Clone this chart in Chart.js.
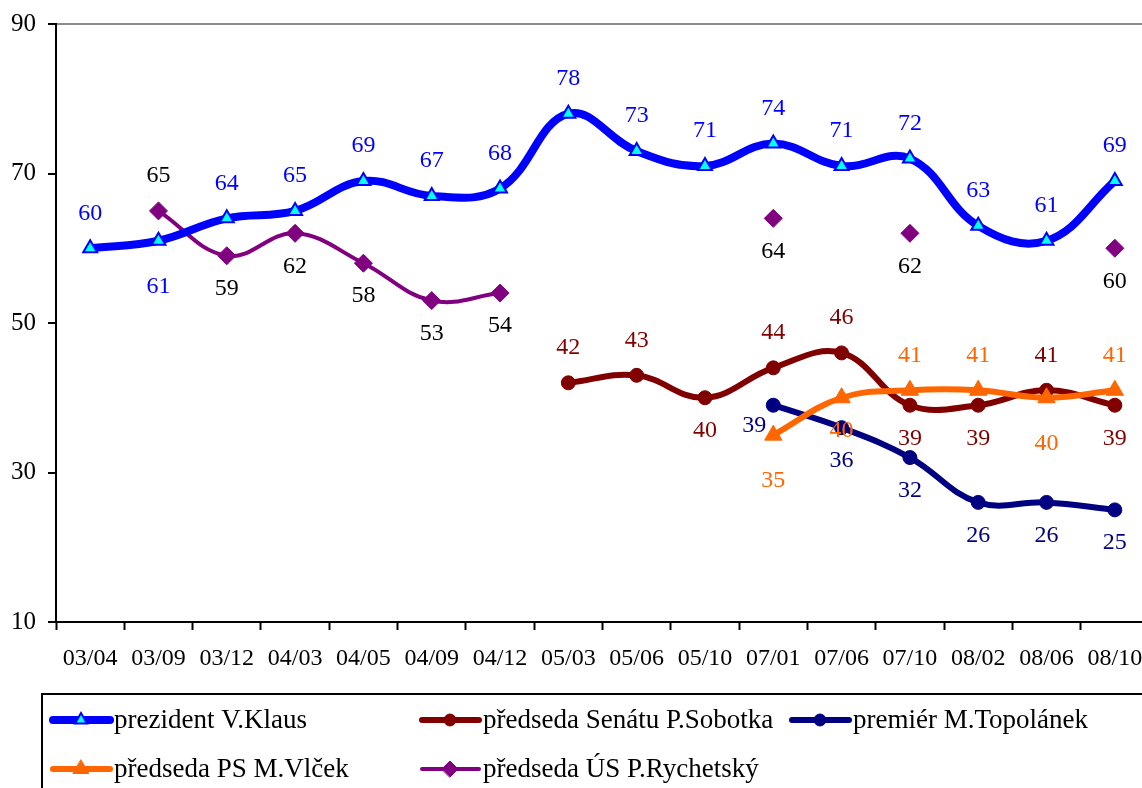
<!DOCTYPE html>
<html lang="cs">

<head>
  <meta charset="UTF-8">
  <title>Důvěra ústavním činitelům</title>
  <script src="https://cdn.jsdelivr.net/npm/chart.js"></script>
  <style>
    html,
    body {
      margin: 0;
      padding: 0;
      background: #fff;
      overflow: hidden;
    }

    #wrap {
      width: 1160px;
      height: 788px;
      position: relative;
    }
  </style>
</head>

<body>
  <div id="wrap"><canvas id="myChart"></canvas></div>

  <script>
    const labels = ['03/04', '03/09', '03/12', '04/03', '04/05', '04/09', '04/12', '05/03',
      '05/06', '05/10', '07/01', '07/06', '07/10', '08/02', '08/06', '08/10'];

    const klaus = [60, 61, 64, 65, 69, 67, 68, 78, 73, 71, 74, 71, 72, 63, 61, 69];
    const sobotka = [null, null, null, null, null, null, null, 42, 43, 40, 44, 46, 39, 39, 41, 39];
    const topolanek = [null, null, null, null, null, null, null, null, null, null, 39, 36, 32, 26, 26, 25];
    const vlcek = [null, null, null, null, null, null, null, null, null, null, 35, 40, 41, 41, 40, 41];
    const rychetsky = [null, 65, 59, 62, 58, 53, 54, null, null, null, 64, null, 62, null, null, 60];

    const yTicks = [10, 30, 50, 70, 90];

    // where the value label sits: a = above, b = below, B = further below, l = left
    const klausPos = ['a', 'B', 'a', 'a', 'a', 'a', 'a', 'a', 'a', 'a', 'a', 'a', 'a', 'a', 'a', 'a'];
    const sobotkaPos = [0, 0, 0, 0, 0, 0, 0, 'a', 'a', 'b', 'a', 'a', 'b', 'b', 'a', 'b'];
    const topolanekPos = [0, 0, 0, 0, 0, 0, 0, 0, 0, 0, 'l', 'b', 'b', 'b', 'b', 'b'];
    const vlcekPos = [0, 0, 0, 0, 0, 0, 0, 0, 0, 0, 'B', 'b', 'a', 'a', 'B', 'a'];
    const rychetskyPos = [0, 'a', 'b', 'b', 'b', 'b', 'b', 0, 0, 0, 'b', 0, 'b', 0, 0, 'b'];

    const FONT = 'Liberation Serif, Times New Roman, serif';

    const valueLabels = {
      id: 'valueLabels',
      afterDatasetsDraw(chart) {
        const ctx = chart.ctx;
        ctx.save();
        ctx.font = '24px ' + FONT;
        ctx.textAlign = 'center';
        ctx.textBaseline = 'middle';
        chart.data.datasets.forEach((ds, i) => {
          const meta = chart.getDatasetMeta(i);
          ctx.fillStyle = ds.labelColor;
          meta.data.forEach((pt, j) => {
            const v = ds.data[j];
            if (v === null) return;
            const p = ds.labelPos[j];
            let dx = 0, dy = -35;
            if (p === 'b') dy = 33;
            if (p === 'B') dy = 46;
            if (p === 'l') { dx = -19; dy = 20; }
            ctx.fillText(String(v), pt.x + dx, pt.y + dy);
          });
        });
        ctx.restore();
      }
    };

    const boxLegend = {
      id: 'boxLegend',
      afterDraw(chart) {
        const ctx = chart.ctx;
        const ds = chart.data.datasets;
        const slots = [[50, 720], [419, 720], [789, 720], [50, 769], [419, 769]];
        ctx.save();
        ctx.strokeStyle = '#000';
        ctx.lineWidth = 2;
        ctx.strokeRect(42, 694, 2000, 300);
        ctx.font = '27px ' + FONT;
        ctx.textBaseline = 'middle';
        ctx.textAlign = 'left';
        ds.forEach((d, i) => {
          const [x, y] = slots[i];
          ctx.strokeStyle = d.borderColor;
          ctx.lineWidth = d.borderWidth;
          ctx.lineCap = 'round';
          ctx.beginPath();
          ctx.moveTo(x + 3, y);
          ctx.lineTo(x + 60, y);
          ctx.stroke();
          ctx.fillStyle = d.pointBackgroundColor;
          ctx.strokeStyle = d.pointBorderColor;
          ctx.lineWidth = d.pointBorderWidth;
          Chart.helpers.drawPoint(ctx, {
            pointStyle: d.pointStyle, radius: d.pointRadius - 1, rotation: 0,
            borderWidth: d.pointBorderWidth
          }, x + 31, y);
          ctx.fillStyle = '#000';
          ctx.fillText(d.label, x + 64, y + 1);
        });
        ctx.restore();
      }
    };

    const ctx = document.getElementById('myChart').getContext('2d');

    new Chart(ctx, {
      type: 'line',
      data: {
        labels: labels,
        datasets: [{
          label: 'prezident V.Klaus',
          data: klaus,
          labelPos: klausPos,
          labelColor: '#0000FF',
          borderColor: '#0000FF',
          borderWidth: 8,
          pointStyle: 'triangle',
          pointRadius: 8,
          pointBackgroundColor: '#00FFFF',
          pointBorderColor: '#0000FF',
          pointBorderWidth: 2,
          order: 3
        }, {
          label: 'předseda Senátu P.Sobotka',
          data: sobotka,
          labelPos: sobotkaPos,
          labelColor: '#800000',
          borderColor: '#800000',
          borderWidth: 6,
          pointStyle: 'circle',
          pointRadius: 7,
          pointBackgroundColor: '#800000',
          pointBorderColor: '#800000',
          pointBorderWidth: 1,
          order: 2
        }, {
          label: 'premiér M.Topolánek',
          data: topolanek,
          labelPos: topolanekPos,
          labelColor: '#000080',
          borderColor: '#000080',
          borderWidth: 6,
          pointStyle: 'circle',
          pointRadius: 7,
          pointBackgroundColor: '#000080',
          pointBorderColor: '#000080',
          pointBorderWidth: 1,
          order: 1
        }, {
          label: 'předseda PS M.Vlček',
          data: vlcek,
          labelPos: vlcekPos,
          labelColor: '#FF6600',
          borderColor: '#FF6600',
          borderWidth: 6,
          pointStyle: 'triangle',
          pointRadius: 10,
          pointBackgroundColor: '#FF6600',
          pointBorderColor: '#FF6600',
          pointBorderWidth: 1,
          order: 0
        }, {
          label: 'předseda ÚS P.Rychetský',
          data: rychetsky,
          labelPos: rychetskyPos,
          labelColor: '#000000',
          borderColor: '#800080',
          borderWidth: 4,
          pointStyle: 'rectRot',
          pointRadius: 9,
          pointBackgroundColor: '#800080',
          pointBorderColor: '#800080',
          pointBorderWidth: 1,
          order: 4
        }]
      },
      options: {
        responsive: true,
        maintainAspectRatio: false,
        animation: false,
        spanGaps: false,
        elements: {
          line: { tension: 0.4, borderCapStyle: 'round', borderJoinStyle: 'round' }
        },
        layout: { padding: { top: 24, right: 7, left: 0, bottom: 0 } },
        plugins: {
          legend: { display: false },
          tooltip: { enabled: false }
        },
        scales: {
          x: {
            offset: true,
            afterFit: s => { s.height = 166; },
            grid: { offset: true, drawOnChartArea: false, tickColor: '#000', tickLength: 8, tickWidth: 2 },
            border: { color: '#000', width: 2 },
            ticks: {
              color: '#000',
              font: { family: FONT, size: 24 },
              padding: 14,
              maxRotation: 0,
              autoSkip: false
            }
          },
          y: {
            min: 10,
            max: 90,
            afterFit: s => { s.width = 56; s.paddingTop = 0; s.paddingBottom = 0; },
            afterBuildTicks: s => { s.ticks = yTicks.map(v => ({ value: v })); },
            grid: {
              color: c => (c.tick && c.tick.value === 90 ? '#8c8c8c' : 'rgba(0,0,0,0)'),
              lineWidth: 2,
              tickColor: '#000',
              tickLength: 8,
              tickWidth: 2
            },
            border: { color: '#000', width: 2 },
            ticks: {
              color: '#000',
              font: { family: FONT, size: 25 },
              padding: 12
            }
          }
        }
      },
      plugins: [valueLabels, boxLegend]
    });
  </script>
</body>

</html>
